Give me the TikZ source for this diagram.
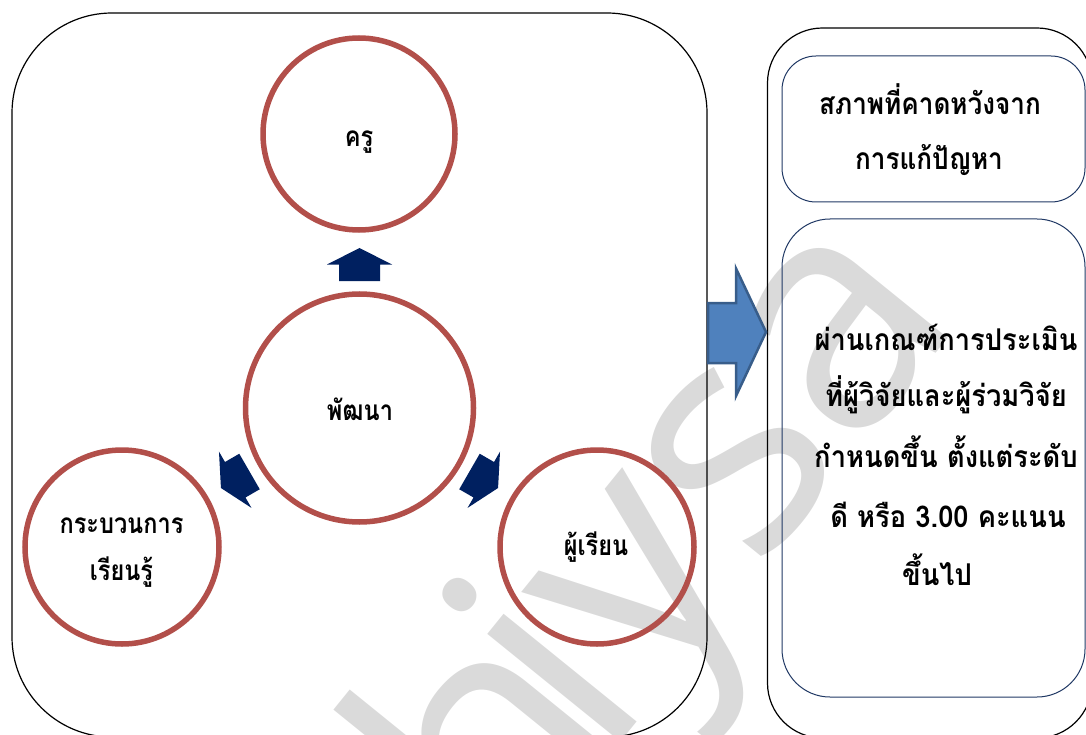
\documentclass[tikz,border=0pt]{standalone}
\usepackage{fontspec}
\newfontfamily\thai[Script=Thai, FakeStretch=0.87]{Loma}
\newfontfamily\thaib[Script=Thai, FakeStretch=0.91]{Loma}
\newfontfamily\thaic[Script=Thai, FakeStretch=0.84]{Loma}
\newfontfamily\wmfont{Open Sans}
\definecolor{circred}{HTML}{B24F4A}
\definecolor{navyarr}{HTML}{002060}
\definecolor{bigfill}{HTML}{4F81BD}
\definecolor{bigline}{HTML}{385D8A}
\definecolor{innerline}{HTML}{203864}
\definecolor{wmgray}{HTML}{DADADA}
\tikzset{
  ring/.style={circle, draw=circred, line width=5.5pt, inner sep=0pt},
  outerbox/.style={draw=black, line width=1.2pt},
  innerbox/.style={draw=innerline, line width=1pt},
  thtext/.style={font=\thai\bfseries\fontsize{30}{36}\selectfont, anchor=base, inner sep=0pt},
  thtextb/.style={font=\thaib\bfseries\fontsize{30}{36}\selectfont, anchor=base, inner sep=0pt},
  cirtext/.style={font=\thaic\bfseries\fontsize{28}{34}\selectfont, anchor=base, inner sep=0pt},
  smallarrow/.style={fill=navyarr},
}
\begin{document}
\begin{tikzpicture}[x=1pt,y=-1pt]
\useasboundingbox (0,0) rectangle (1086,735);
\clip (0,0) rectangle (1086,735);
% watermark
\node[rotate=51, font=\wmfont\fontsize{320}{320}\selectfont, text=wmgray, anchor=base west, inner sep=0pt] (wm) at (505,885) {h\kern-40pt iysa};
% outer boxes
\draw[outerbox, rounded corners=100pt] (12,13) rectangle (707,737);
\draw[outerbox, rounded corners=55pt] (767.5,28) rectangle (1092,738);
\draw[innerbox, rounded corners=34pt] (782,56) rectangle (1085,202);
\draw[innerbox, rounded corners=48pt] (782,219) rectangle (1085,697);
% circles
\node[ring, minimum size=192pt] (kru) at (359,134) {};
\node[ring, minimum size=228pt] (mid) at (359.5,408) {};
\node[ring, minimum size=194pt] (proc) at (122,547) {};
\node[ring, minimum size=194pt] (learn) at (597,547) {};
% small arrows
\foreach \ang in {90,-30,210}{
  \begin{scope}[shift={(mid.center)}, rotate=\ang]
    \fill[smallarrow] (127,-20.5) -- (143.5,-20.5) -- (143.5,-32.5) -- (160,0) -- (143.5,32.5) -- (143.5,20.5) -- (127,20.5) -- cycle;
  \end{scope}
}
% big arrow
\filldraw[fill=bigfill, draw=bigline, line width=2.5pt, line join=miter]
  (708,303) -- (736,303) -- (736,268.5) -- (766,332) -- (736,396) -- (736,363) -- (708,363) -- cycle;
% texts
\node[cirtext] (tkru) at (359,147) {ครู};
\node[cirtext] (tmid) at (360,420) {พัฒนา};
\node[cirtext] (tproc1) at (121.5,533) {กระบวนการ};
\node[cirtext] (tproc2) at (121.5,580) {เรียนรู้};
\node[cirtext] (tlearn) at (596,555) {ผู้เรียน};
\node[thtext] (h1) at (930,115) {สภาพที่คาดหวังจาก};
\node[thtext] (h2) at (929,170) {การแก้ปัญหา};
\node[thtextb] (b1) at (946,350) {ผ่านเกณฑ์การประเมิน};
\node[thtextb] (b2) at (946,406) {ที่ผู้วิจัยและผู้ร่วมวิจัย};
\node[thtextb] (b3) at (946,467) {กำหนดขึ้น ตั้งแต่ระดับ};
\node[thtextb] (b4) at (948,527) {ดี หรือ 3.00 คะแนน};
\node[thtextb] (b5) at (937,585) {ขึ้นไป};
\end{tikzpicture}
\end{document}
